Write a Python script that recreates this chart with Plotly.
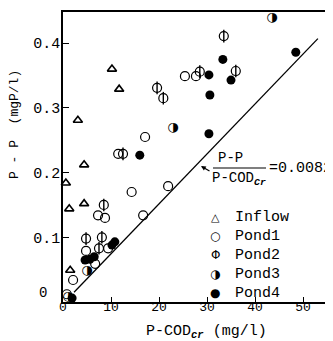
import plotly.graph_objects as go

# ---- data ----
inflow_x = [10.2, 11.7, 3.1, 4.4, 0.6, 1.3, 4.4, 1.5]
inflow_y = [0.360, 0.329, 0.281, 0.212, 0.184, 0.144, 0.152, 0.049]

pond1_x = [25.4, 27.7, 17.1, 14.3, 21.9, 16.7, 11.5, 7.3, 8.75, 4.8, 9.4, 6.7, 2.1, 0.8]
pond1_y = [0.349, 0.349, 0.255, 0.170, 0.179, 0.134, 0.229, 0.134, 0.130, 0.079, 0.083, 0.059, 0.034, 0.012]

pond2_x = [19.6, 20.9, 28.5, 36.0, 33.5, 12.5, 8.5, 4.8, 8.1, 7.5]
pond2_y = [0.331, 0.315, 0.356, 0.357, 0.411, 0.229, 0.150, 0.098, 0.100, 0.083]

pond3_x = [43.5, 22.9, 5.0, 1.0]
pond3_y = [0.439, 0.270, 0.049, 0.008]

pond4_x = [48.5, 33.3, 30.4, 35.0, 30.6, 30.4, 16.0, 10.8, 10.2, 4.6, 5.6, 6.5, 1.9]
pond4_y = [0.386, 0.375, 0.351, 0.343, 0.320, 0.260, 0.227, 0.093, 0.088, 0.065, 0.066, 0.070, 0.006]

fit_x = [2.3, 53.1]
fit_y = [0.015, 0.407]

x_ticks = [0, 10, 20, 30, 40, 50]
y_ticks = [0.1, 0.2, 0.3, 0.4]

# ---- layout geometry ----
# page body has an 8px default margin, so the figure is drawn shifted by 8px
OFF = 8
W, H = 333, 341 - OFF
REF_L, REF_T, REF_BOT = 63, 12, 302          # plot area in window pixels
PW, PH = W + OFF - REF_L, REF_BOT - REF_T
L, T = REF_L - OFF, REF_T - OFF
B = H - T - PH


def px(x):
    return (x - REF_L) / PW


def py(y):
    return (REF_BOT - y) / PH


MONO = "Liberation Mono"
GLYPH = "DejaVu Sans"

fig = go.Figure()

fig.add_trace(go.Scatter(x=fit_x, y=fit_y, mode="lines",
                         line=dict(color="black", width=1.3), hoverinfo="skip"))

fig.add_trace(go.Scatter(x=inflow_x, y=inflow_y, mode="markers", cliponaxis=False,
                         marker=dict(symbol="triangle-up-open", size=8, color="black",
                                     line=dict(width=1.6, color="black"))))
fig.add_trace(go.Scatter(x=pond1_x, y=pond1_y, mode="markers", cliponaxis=False,
                         marker=dict(symbol="circle-open", size=9, color="black",
                                     line=dict(width=1.2, color="black"))))
fig.add_trace(go.Scatter(x=pond2_x, y=pond2_y, mode="markers", cliponaxis=False,
                         marker=dict(symbol="circle-open", size=9, color="black",
                                     line=dict(width=1.2, color="black"))))
fig.add_trace(go.Scatter(x=pond2_x, y=pond2_y, mode="markers", cliponaxis=False,
                         marker=dict(symbol="line-ns-open", size=9, color="black",
                                     line=dict(width=1.4, color="black"))))
fig.add_trace(go.Scatter(x=pond3_x, y=pond3_y, mode="text", text=["\u25d1"] * len(pond3_x),
                         textposition="middle center", cliponaxis=False,
                         textfont=dict(family=GLYPH, size=13, color="black")))
fig.add_trace(go.Scatter(x=pond4_x, y=pond4_y, mode="markers", cliponaxis=False,
                         marker=dict(symbol="circle", size=9, color="black",
                                     line=dict(width=0, color="black"))))


def note(xp, yp, text, size=14, family=MONO, xanchor="center", **kw):
    d = dict(x=px(xp), y=py(yp), xref="paper", yref="paper", text=text,
             xanchor=xanchor, yanchor="middle", showarrow=False,
             font=dict(family=family, size=size, color="black"))
    d.update(kw)
    return d


ann = []
ann.append(note(14, 125, "P - P  (mgP/l)", size=13, textangle=-90))
ann.append(note(206, 332, "P-COD<sub><b><i>cr</i></b></sub> (mg/l)", size=15))
ann.append(note(43, 293, "0", size=14))
ann.append(note(230, 158, "P-P", size=14))
ann.append(note(239, 179, "P-COD<sub><b><i>Cr</i></b></sub>", size=14))
ann.append(note(267, 168, "=0.0082", size=15, xanchor="left"))
ann.append(dict(x=px(201), y=py(166), xref="paper", yref="paper", text="",
                showarrow=True, ax=10, ay=6, arrowhead=2, arrowsize=0.8, arrowwidth=1.2,
                arrowcolor="black"))

leg = [("\u25b3", "Inflow", 217, 11), ("\u25cb", "Pond1", 236, 12), ("\u03a6", "Pond2", 255, 12),
       ("\u25d1", "Pond3", 274, 12), ("\u25cf", "Pond4", 293, 12)]
for g, name, yy, fs in leg:
    ann.append(note(215, yy, g, size=fs, family=GLYPH))
    ann.append(note(233, yy, name, size=15, xanchor="left"))

fig.update_layout(
    width=W, height=H,
    margin=dict(l=L, r=0, t=T, b=B, pad=0),
    paper_bgcolor="white", plot_bgcolor="white",
    showlegend=False,
    annotations=ann,
    shapes=[dict(type="line", xref="paper", yref="paper", x0=px(213), x1=px(266),
                 y0=py(168), y1=py(168), line=dict(color="black", width=1.2))],
    xaxis=dict(range=[0, PW / 4.8], tickvals=x_ticks, ticks="inside", ticklen=5,
               tickcolor="black", showgrid=False, zeroline=False, showline=True,
               linecolor="black", linewidth=1.6, mirror=True, ticklabelstandoff=-8,
               tickfont=dict(family=MONO, size=13, color="black")),
    yaxis=dict(range=[0, PH / 647.0], tickvals=y_ticks, ticktext=["0.1", "0.2", "0.3", "0.4"],
               ticks="inside", ticklen=6, tickcolor="black", showgrid=False, zeroline=False,
               showline=True, linecolor="black", linewidth=1.6, mirror=False,
               ticklabelstandoff=-2,
               tickfont=dict(family=MONO, size=15, color="black")),
)

fig.write_html("out.html")
